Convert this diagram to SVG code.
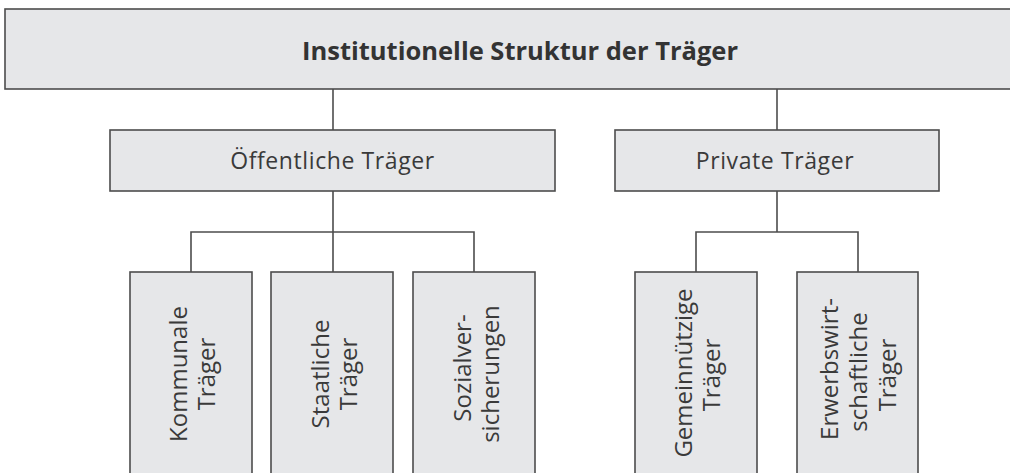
<svg xmlns="http://www.w3.org/2000/svg" width="1010" height="473" viewBox="0 0 1010 473">
  <style>
    .box { fill: #e6e7e9; stroke: #4d4d4d; stroke-width: 1.6; }
    .conn { fill: none; stroke: #4d4d4d; stroke-width: 1.6; }
    .title { font-family: "Open Sans", "DejaVu Sans", sans-serif; font-weight: 700; font-size: 25px; fill: #333333; }
    .lbl { font-family: "Open Sans", "DejaVu Sans", sans-serif; font-size: 23px; fill: #3a3a3a; letter-spacing: 0.6px; }
    .vlbl { font-family: "Open Sans", "DejaVu Sans", sans-serif; font-size: 24px; fill: #3a3a3a; }
  </style>
  <rect width="1010" height="473" fill="#ffffff"/>

  <!-- connectors -->
  <g id="connectors">
    <path class="conn" d="M333 89 V130"/>
    <path class="conn" d="M777 89 V130"/>
    <path class="conn" d="M333 191 V272 M191 272 V232 H474 V272"/>
    <path class="conn" d="M777 191 V232 M696 272 V232 H858 V272"/>
  </g>

  <g id="root">
    <rect class="box" x="5" y="9" width="1020" height="80"/>
    <text class="title" x="520" y="60" text-anchor="middle" textLength="436" lengthAdjust="spacingAndGlyphs">Institutionelle Struktur der Träger</text>
  </g>

  <g id="oeffentlich">
    <rect class="box" x="110" y="130" width="445" height="61"/>
    <text class="lbl" x="332.5" y="169" text-anchor="middle">Öffentliche Träger</text>
  </g>

  <g id="privat">
    <rect class="box" x="615" y="130" width="324" height="61"/>
    <text class="lbl" x="775" y="169" text-anchor="middle">Private Träger</text>
  </g>

  <g id="kommunal">
    <rect class="box" x="130" y="272" width="122" height="215"/>
    <text class="vlbl" text-anchor="middle" transform="translate(187 374) rotate(-90)">Kommunale</text>
    <text class="vlbl" text-anchor="middle" transform="translate(215 374) rotate(-90)">Träger</text>
  </g>

  <g id="staatlich">
    <rect class="box" x="271" y="272" width="122" height="215"/>
    <text class="vlbl" text-anchor="middle" transform="translate(329 374) rotate(-90)">Staatliche</text>
    <text class="vlbl" text-anchor="middle" transform="translate(357 374) rotate(-90)">Träger</text>
  </g>

  <g id="sozialversicherung">
    <rect class="box" x="413" y="272" width="122" height="215"/>
    <text class="vlbl" text-anchor="middle" transform="translate(471 368) rotate(-90)">Sozialver-</text>
    <text class="vlbl" text-anchor="middle" transform="translate(499 374) rotate(-90)">sicherungen</text>
  </g>

  <g id="gemeinnuetzig">
    <rect class="box" x="635" y="272" width="122" height="215"/>
    <text class="vlbl" text-anchor="middle" transform="translate(692 373) rotate(-90)">Gemeinnützige</text>
    <text class="vlbl" text-anchor="middle" transform="translate(720 375) rotate(-90)">Träger</text>
  </g>

  <g id="erwerbswirtschaftlich">
    <rect class="box" x="797" y="272" width="121" height="215"/>
    <text class="vlbl" text-anchor="middle" transform="translate(838 369) rotate(-90)">Erwerbswirt-</text>
    <text class="vlbl" text-anchor="middle" transform="translate(867 372) rotate(-90)">schaftliche</text>
    <text class="vlbl" text-anchor="middle" transform="translate(896 375) rotate(-90)">Träger</text>
  </g>
</svg>
